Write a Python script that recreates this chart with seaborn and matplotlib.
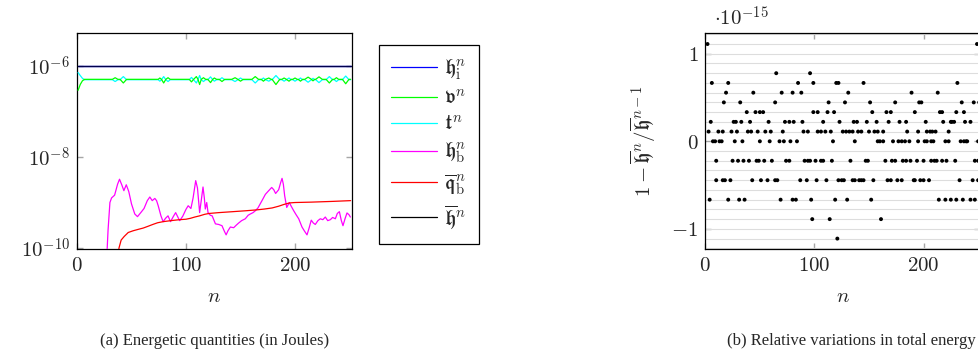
import numpy as np
import pandas as pd
import matplotlib
matplotlib.use("Agg")
import matplotlib.pyplot as plt
import seaborn as sns
from matplotlib.ticker import FixedLocator, FuncFormatter, NullLocator
from matplotlib.lines import Line2D

# ---------------- data: left panel (energies, Joules) ----------------
n_hi = [1, 251]
h_i = [1.0e-6, 1.0e-6]
n_hbar = [1, 251]
h_bar = [1.0e-6, 1.0e-6]

# potential (v) and kinetic (t) energies, units 1e-7 J
n_vt = [1, 3, 5, 7, 32.5, 35, 37.5, 39.5, 42.5, 45.5, 74.5, 76, 77.5, 79.5, 81.5, 83.5, 85.5,
        103, 105, 107, 109.5, 111, 112.5, 114, 116, 118, 120, 122.5, 124.5, 126, 128, 130.5, 133, 135.5,
        142, 145, 147.5, 150, 152.5, 160.5, 163.5, 166.5, 169, 171, 173, 176, 178, 179, 182.5, 186,
        188, 190, 192, 194.5, 196.5, 198, 200, 202, 203, 205, 207, 209, 212, 215, 216.5, 218, 219,
        222, 225, 228.5, 231.5, 234.5, 236, 238, 240, 243.5, 246.5, 249.5, 251]
v_e7 = [2.9, 3.9, 4.7, 5.05, 5.05, 5.48, 5.05, 5.05, 4.2, 5.05, 5.05, 5.4, 5.05, 4.2, 5.05, 5.48, 5.05,
        5.05, 4.44, 5.05, 5.8, 5.05, 3.88, 5.05, 5.48, 5.05, 5.05, 4.28, 5.05, 5.4, 5.05, 5.05, 4.52, 5.05,
        5.05, 5.48, 5.05, 4.6, 5.05, 5.05, 5.8, 5.05, 5.05, 4.6, 5.05, 5.4, 5.05, 5.05, 3.88, 5.05,
        5.05, 5.4, 5.05, 4.6, 5.05, 5.05, 5.4, 5.05, 5.05, 4.6, 5.05, 5.05, 5.64, 5.05, 4.68, 5.05, 5.05,
        5.72, 5.05, 5.05, 4.2, 5.05, 5.05, 5.48, 5.05, 5.05, 4.04, 5.05, 5.05]
t_e7 = [7.1, 6.1, 5.3, 4.95, 4.95, 4.52, 4.95, 4.95, 5.8, 4.95, 4.95, 4.6, 4.95, 5.8, 4.95, 4.52, 4.95,
        4.95, 5.56, 4.95, 4.2, 4.95, 6.12, 4.95, 4.52, 4.95, 4.95, 5.72, 4.95, 4.6, 4.95, 4.95, 5.48, 4.95,
        4.95, 4.52, 4.95, 5.4, 4.95, 4.95, 4.2, 4.95, 4.95, 5.4, 4.95, 4.6, 4.95, 4.95, 6.12, 4.95,
        4.95, 4.6, 4.95, 5.4, 4.95, 4.95, 4.6, 4.95, 4.95, 5.4, 4.95, 4.95, 4.36, 4.95, 5.32, 4.95, 4.95,
        4.28, 4.95, 4.95, 5.8, 4.95, 4.95, 4.52, 4.95, 4.95, 5.96, 4.95, 4.95]

n_hb = [26.5, 28.5, 30.2, 31.7, 34.5, 37.2, 39.0, 41.2, 43.0, 45.2, 47.5, 50.0, 53.0, 55.5, 58.5, 61.5,
        64.5, 66.8, 69.0, 71.4, 73.0, 74.5, 77.0, 79.0, 81.2, 83.5, 85.8, 88.5, 90.5, 92.5, 94.2, 97,
        100, 102, 104.5, 106.5, 108.9, 110.5, 111.5, 112.5, 114, 115.6, 116.8, 117.7, 119, 120.2, 122.3,
        124, 127, 130, 133, 135, 136.8, 138.5, 140.7, 143.7, 146.2, 148.3, 151, 154.4, 157, 159, 161.5,
        163.6, 166, 169.7, 172.8, 175.5, 178.6, 180.5, 182.2, 185, 187, 188.1, 189.3, 190.5, 192.4,
        194.8, 196.5, 198.8, 201, 203.4, 206.4, 208.5, 211, 213, 214.9, 216.8, 218.6, 221, 223.2,
        225.5, 227.8, 230, 232.4, 234.5, 237, 238.8, 240.7, 242.5, 244, 246, 247.7, 249.5, 250.8]
h_b = [2.5e-11, 2.5e-10, 1.0e-9, 1.26e-9, 1.45e-9, 2.51e-9, 3.24e-9, 2.4e-9, 1.82e-9, 2.45e-9,
       1.74e-9, 9.3e-10, 5.6e-10, 4.9e-10, 6.0e-10, 7.4e-10, 1.1e-9, 1.32e-9, 1.1e-9, 1.23e-9,
       1.1e-9, 8.5e-10, 5.1e-10, 3.8e-10, 4.5e-10, 5.1e-10, 3.8e-10, 5.0e-10, 6.0e-10, 4.8e-10,
       4.0e-10, 5.0e-10, 7.1e-10, 8.5e-10, 7.4e-10, 1.26e-9, 3.02e-9, 2.09e-9, 1.12e-9, 6.0e-10,
       1.12e-9, 2.19e-9, 1.26e-9, 7.2e-10, 1.0e-9, 6.0e-10, 5.25e-10, 5.1e-10, 3.4e-10, 3.3e-10,
       3.1e-10, 2.4e-10, 1.95e-10, 2.4e-10, 2.9e-10, 2.8e-10, 3.2e-10, 3.55e-10, 4.0e-10, 4.4e-10,
       5.25e-10, 5.6e-10, 6.0e-10, 6.6e-10, 7.6e-10, 1.1e-9, 1.51e-9, 1.78e-9, 2.14e-9, 1.91e-9,
       1.58e-9, 1.91e-9, 2.82e-9, 3.39e-9, 2.51e-9, 1.41e-9, 7.8e-10, 1.0e-9, 8.3e-10, 6.6e-10,
       5.4e-10, 4.4e-10, 2.9e-10, 2.4e-10, 1.95e-10, 2.8e-10, 4.1e-10, 3.55e-10, 3.3e-10, 4.0e-10,
       4.4e-10, 4.2e-10, 4.8e-10, 4.0e-10, 4.2e-10, 4.7e-10, 4.4e-10, 5.75e-10, 6.3e-10, 4.0e-10,
       3.1e-10, 4.5e-10, 5.9e-10, 5.4e-10, 4.8e-10]

n_qb = [36.5, 38.5, 40.5, 43.3, 47, 51.5, 56, 60.7, 65, 69.5, 74, 79, 86, 94, 100, 104, 108, 112.5,
        117, 121, 130, 143, 155, 165, 172, 179, 185, 190, 195, 200, 215, 235, 251]
q_b = [4.0e-11, 1.0e-10, 1.5e-10, 1.8e-10, 2.2e-10, 2.4e-10, 2.57e-10, 2.75e-10, 3.0e-10, 3.3e-10,
       3.6e-10, 3.8e-10, 4.0e-10, 4.2e-10, 4.3e-10, 4.5e-10, 4.8e-10, 5.1e-10, 5.5e-10, 5.75e-10,
       6.0e-10, 6.3e-10, 6.6e-10, 6.9e-10, 7.2e-10, 7.6e-10, 8.3e-10, 9.1e-10, 9.8e-10, 1.0e-9,
       1.02e-9, 1.06e-9, 1.10e-9]

# ---------------- data: right panel (relative variation, units of 1e-15) ----------------
lvl_p10, lvl_p7, lvl_p6, lvl_p5, lvl_p4 = 1.1102, 0.7772, 0.6661, 0.5551, 0.4441
lvl_p3, lvl_p2, lvl_p1, lvl_0 = 0.3331, 0.2220, 0.1110, 0.0
lvl_m2, lvl_m4, lvl_m6, lvl_m8, lvl_m10 = -0.2220, -0.4441, -0.6661, -0.8882, -1.1102

n_p10 = [2, 249]
n_p7 = [65, 96]
n_p6 = [6, 21, 85, 99, 120, 122, 145, 231]
n_p5 = [19, 44, 70, 80, 88, 131, 189, 213]
n_p4 = [17, 32, 64, 113, 128, 151, 174, 196, 198, 235, 246, 251]
n_p3 = [38, 46, 50, 53, 99, 103, 112, 118, 153, 166, 170, 192, 215, 217, 230, 237]
n_p2 = [5, 26, 28, 33, 41, 58, 73, 77, 81, 89, 108, 123, 136, 139, 148, 157, 168, 178, 184,
        202, 218, 225, 226, 228, 238, 243]
n_p1 = [3, 12, 16, 24, 29, 39, 42, 48, 55, 60, 71, 90, 94, 103, 106, 110, 115, 126, 129, 132,
        135, 140, 143, 150, 155, 158, 163, 185, 195, 203, 206, 208, 211, 223]
n_0 = [7, 9, 13, 15, 27, 34, 50, 59, 68, 72, 78, 84, 117, 137, 158, 160, 163, 172, 177, 180,
       183, 187, 195, 201, 203, 207, 209, 220, 223, 234, 237, 239, 240, 250]
n_m2 = [10, 25, 30, 35, 40, 47, 49, 54, 61, 74, 77, 91, 94, 96, 101, 106, 108, 116, 133, 147,
        149, 165, 171, 174, 181, 184, 188, 194, 200, 207, 210, 212, 217, 221, 229, 247, 250]
n_m4 = [10, 16, 18, 23, 43, 51, 57, 64, 66, 87, 93, 102, 111, 122, 125, 127, 135, 137, 141, 143,
        145, 154, 167, 170, 176, 180, 191, 192, 197, 200, 205, 233, 245, 250]
n_m6 = [4, 21, 31, 36, 69, 80, 83, 97, 119, 130, 152, 214, 220, 225, 230, 236, 243, 247]
n_m8 = [98, 114, 161]
n_m10 = [121]

rows = [(lvl_p10, n_p10), (lvl_p7, n_p7), (lvl_p6, n_p6), (lvl_p5, n_p5), (lvl_p4, n_p4),
        (lvl_p3, n_p3), (lvl_p2, n_p2), (lvl_p1, n_p1), (lvl_0, n_0), (lvl_m2, n_m2),
        (lvl_m4, n_m4), (lvl_m6, n_m6), (lvl_m8, n_m8), (lvl_m10, n_m10)]
dfR = pd.DataFrame([(n, lv) for lv, ns in rows for n in ns], columns=["n", "dh"])

# ---------------- style ----------------
sns.set_theme(style="ticks")
plt.rcParams["font.family"] = ["DejaVu Serif"]
plt.rcParams["mathtext.fontset"] = "cm"

W, H = 979, 358
fig = plt.figure(figsize=(W / 100, H / 100), dpi=100)
axL = fig.add_axes([77 / W, 1 - 249 / H, 274.7 / W, 216 / H])
axR = fig.add_axes([705.3 / W, 1 - 249 / H, 275 / W, 216 / H])

FS = 15
tickgray = "#a6a6a6"

def mfmt(v, p):
    if abs(v) < 1e-12:
        return r"$0$"
    return r"$%g$" % v

# ---------- left ----------
axL.set_yscale("log")
sns.lineplot(x=n_hi, y=h_i, ax=axL, color="#0000ff", lw=1.0, estimator=None, legend=False, zorder=3)
sns.lineplot(x=n_vt, y=np.array(t_e7) * 1e-7, ax=axL, color="#00ffff", lw=0.9, estimator=None,
             sort=False, legend=False, zorder=3)
sns.lineplot(x=n_vt, y=np.array(v_e7) * 1e-7, ax=axL, color="#00ff00", lw=0.9, estimator=None,
             sort=False, legend=False, zorder=3)
sns.lineplot(x=n_hb, y=h_b, ax=axL, color="#ff00ff", lw=0.9, estimator=None, sort=False,
             legend=False, zorder=3)
sns.lineplot(x=n_qb, y=q_b, ax=axL, color="#ff0000", lw=0.9, estimator=None, sort=False,
             legend=False, zorder=3)
sns.lineplot(x=n_hbar, y=h_bar, ax=axL, color="black", lw=1.0, alpha=0.7, estimator=None,
             legend=False, zorder=4)
axL.set_xlim(0, 252)
axL.set_ylim(10 ** -10.02, 10 ** -5.28)
axL.yaxis.set_major_locator(FixedLocator([1e-10, 1e-8, 1e-6]))
axL.yaxis.set_minor_locator(NullLocator())
axL.yaxis.set_major_formatter(FuncFormatter(lambda v, p: r"$10^{%d}$" % round(np.log10(v))))
axL.xaxis.set_major_locator(FixedLocator([0, 100, 200]))
axL.xaxis.set_major_formatter(FuncFormatter(mfmt))
axL.set_xlabel(r"$n$", fontsize=FS, labelpad=9)
axL.set_ylabel("")

# ---------- right ----------
sns.scatterplot(data=dfR, x="n", y="dh", ax=axR, color="black", s=8, edgecolor="none",
                legend=False, zorder=3, clip_on=True)
axR.set_xlim(0, 252)
axR.set_ylim(-1.229, 1.236)
axR.xaxis.set_major_locator(FixedLocator([0, 100, 200]))
axR.xaxis.set_major_formatter(FuncFormatter(mfmt))
axR.yaxis.set_major_locator(FixedLocator([-1, 0, 1]))
axR.yaxis.set_major_formatter(FuncFormatter(mfmt))
axR.yaxis.set_minor_locator(FixedLocator(np.arange(-11, 12) * 0.11102))
axR.grid(which="minor", axis="y", color="#dddddd", lw=0.8, zorder=0)
axR.set_axisbelow(True)
axR.set_xlabel(r"$n$", fontsize=FS, labelpad=9)
axR.set_ylabel(r"$1-\overline{\mathfrak{h}}^{n}/\overline{\mathfrak{h}}^{n-1}$", fontsize=FS, labelpad=10)
fig.text(714 / W, 1 - 26 / H, r"$\cdot 10^{-15}$", fontsize=FS, va="baseline", ha="left")

for ax in (axL, axR):
    for s in ax.spines.values():
        s.set_color("black")
        s.set_linewidth(0.9)
    ax.tick_params(which="major", direction="in", top=True, right=True, color=tickgray,
                   length=4.5, width=1.0, labelsize=FS, pad=5)
    ax.tick_params(which="minor", length=0)

# ---------- legend ----------
handles = [Line2D([], [], color="#0000ff", lw=0.9), Line2D([], [], color="#00ff00", lw=0.9),
           Line2D([], [], color="#00ffff", lw=0.9), Line2D([], [], color="#ff00ff", lw=0.9),
           Line2D([], [], color="#ff0000", lw=0.9), Line2D([], [], color="black", lw=0.9)]
labels = [r"$\mathfrak{h}_{\mathrm{i}}^{n}$", r"$\mathfrak{v}^{n}$", r"$\mathfrak{t}^{n}$",
          r"$\mathfrak{h}_{\mathrm{b}}^{n}$", r"$\overline{\mathfrak{q}}_{\mathrm{b}}^{n}$",
          r"$\overline{\mathfrak{h}}^{n}$"]
leg = fig.legend(handles, labels, loc="upper left", bbox_to_anchor=(379 / W, 1 - 45 / H),
                 frameon=True, fancybox=False, edgecolor="black", framealpha=1, fontsize=FS,
                 handlelength=2.2, handletextpad=0.3, labelspacing=0.32, borderpad=0.6,
                 borderaxespad=0)
leg.get_frame().set_linewidth(0.9)

# ---------- captions ----------
fig.text(215 / W, 1 - 341 / H, "(a) Energetic quantities (in Joules)", ha="center", va="center",
         family="Liberation Serif", fontsize=12)
fig.text(976 / W, 1 - 341 / H, "(b) Relative variations in total energy", ha="right", va="center",
         family="Liberation Serif", fontsize=12)

fig.savefig("out.png", dpi=100)
